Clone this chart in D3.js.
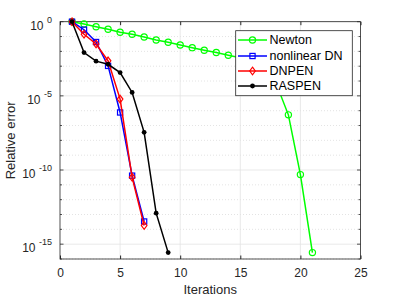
<!DOCTYPE html>
<html><head><meta charset="utf-8">
<script src="https://cdn.jsdelivr.net/npm/d3@7"></script>
<style>body{margin:0;background:#fff}svg{display:block;font-family:"Liberation Sans",Arial,sans-serif}</style>
</head><body><svg id="c" width="399" height="299"></svg>
<script>
const xTicks = [0, 5, 10, 15, 20, 25];
const yTickExps = [0, -5, -10, -15];
const seriesNames = ["Newton", "nonlinear DN", "DNPEN", "RASPEN"];
const seriesColors = ["#00ff00", "#0000ff", "#ff0000", "#000000"];
const newtonIt = [1,2,3,4,5,6,7,8,9,10,11,12,13,14,15,16,17,18,19,20,21];
const newtonLog = [0,-0.155,-0.336,-0.51,-0.71,-0.85,-1.03,-1.23,-1.39,-1.57,-1.75,-1.92,-2.08,-2.26,-2.43,-2.62,-3.0,-4.2,-6.28,-10.31,-15.57];
const dnIt = [1,2,3,4,5,6,7];
const dnLog = [0,-0.54,-1.37,-2.98,-6.12,-10.38,-13.47];
const dnpenIt = [1,2,3,4,5,6,7];
const dnpenLog = [0,-0.85,-1.5,-2.64,-5.22,-10.49,-13.74];
const raspenIt = [1,2,3,4,5,6,7,8,9];
const raspenLog = [0,-2.08,-2.66,-2.87,-3.43,-4.77,-7.46,-12.91,-15.57];

const svg = d3.select("#c");
const L = 60, R = 360.5, T = 21.7, B = 259;
const x = d3.scaleLinear().domain([0, 25]).range([L, R]);
const y = d3.scaleLog().domain([1e-16, 1]).range([B, T]);
const axisCol = "#262626";

// minor dotted grid (each decade)
const decades = d3.range(-16, 1);
svg.append("g").selectAll("line").data(decades.filter(d => d % 5 !== 0)).join("line")
  .attr("x1", L).attr("x2", R).attr("y1", d => y(Math.pow(10, d))).attr("y2", d => y(Math.pow(10, d)))
  .attr("stroke", "#d0d0d0").attr("stroke-width", 0.6).attr("stroke-dasharray", "1,2");
// major grid
svg.append("g").selectAll("line").data(yTickExps).join("line")
  .attr("x1", L).attr("x2", R).attr("y1", d => y(Math.pow(10, d))).attr("y2", d => y(Math.pow(10, d)))
  .attr("stroke", "#e3e3e3").attr("stroke-width", 0.8);
svg.append("g").selectAll("line").data(xTicks.slice(1, -1)).join("line")
  .attr("x1", d => x(d)).attr("x2", d => x(d)).attr("y1", T).attr("y2", B)
  .attr("stroke", "#e3e3e3").attr("stroke-width", 0.8);

// box
svg.append("rect").attr("x", L).attr("y", T).attr("width", R - L).attr("height", B - T)
  .attr("fill", "none").attr("stroke", axisCol).attr("stroke-width", 0.8);

// x axis ticks (inward) bottom and top
const xa = d3.axisBottom(x).tickValues(xTicks).tickSize(-3.5).tickPadding(9);
const gx = svg.append("g").attr("transform", `translate(0,${B})`).call(xa);
gx.select(".domain").remove();
gx.selectAll("line").attr("stroke", axisCol);
gx.selectAll("text").attr("fill", axisCol).style("font-size", "12px");
const gxt = svg.append("g").attr("transform", `translate(0,${T})`).call(d3.axisTop(x).tickValues(xTicks).tickSize(-3.5).tickFormat(""));
gxt.select(".domain").remove(); gxt.selectAll("line").attr("stroke", axisCol);

// y ticks inward left and right
[L, R].forEach((xx, i) => {
  const dir = i === 0 ? 1 : -1;
  svg.append("g").selectAll("line").data(decades).join("line")
    .attr("x1", xx).attr("x2", d => xx + dir * (d % 5 === 0 ? 3.5 : 2))
    .attr("y1", d => y(Math.pow(10, d))).attr("y2", d => y(Math.pow(10, d)))
    .attr("stroke", axisCol).attr("stroke-width", 0.8);
});
// y tick labels 10^e
const yl = svg.append("g").selectAll("text").data(yTickExps).join("text")
  .attr("x", L - 8).attr("y", d => y(Math.pow(10, d)) + 8)
  .attr("text-anchor", "end").attr("fill", axisCol).style("font-size", "12px");
yl.append("tspan").text("10");
yl.append("tspan").attr("dx", 3.5).attr("dy", -7).style("font-size", "9px").text(d => String(d));

// axis labels
svg.append("text").attr("x", (L + R) / 2).attr("y", 294).attr("text-anchor", "middle")
  .attr("fill", axisCol).style("font-size", "13px").text("Iterations");
svg.append("text").attr("transform", `translate(15,${(T + B) / 2}) rotate(-90)`).attr("text-anchor", "middle")
  .attr("fill", axisCol).style("font-size", "13px").text("Relative error");

// series
const series = [
  {its: newtonIt, logs: newtonLog, marker: "circle"},
  {its: dnIt, logs: dnLog, marker: "square"},
  {its: dnpenIt, logs: dnpenLog, marker: "diamond"},
  {its: raspenIt, logs: raspenLog, marker: "dot"}
];
const line = d3.line().x(d => x(d[0])).y(d => y(Math.pow(10, d[1])));
function drawMarker(g, type, col, cx, cy) {
  if (type === "circle") g.append("circle").attr("cx", cx).attr("cy", cy).attr("r", 3.1).attr("fill", "none").attr("stroke", col).attr("stroke-width", 1.2);
  else if (type === "square") g.append("rect").attr("x", cx - 2.6).attr("y", cy - 2.6).attr("width", 5.2).attr("height", 5.2).attr("fill", "none").attr("stroke", col).attr("stroke-width", 1.2);
  else if (type === "diamond") g.append("path").attr("d", `M${cx},${cy-3.8}L${cx+2.8},${cy}L${cx},${cy+3.8}L${cx-2.8},${cy}Z`).attr("fill", "none").attr("stroke", col).attr("stroke-width", 1.2);
  else g.append("circle").attr("cx", cx).attr("cy", cy).attr("r", 2.4).attr("fill", col);
}
series.forEach((s, i) => {
  const pts = s.its.map((it, k) => [it, s.logs[k]]);
  const g = svg.append("g");
  g.append("path").attr("d", line(pts)).attr("fill", "none").attr("stroke", seriesColors[i]).attr("stroke-width", 1.5);
  pts.forEach(p => drawMarker(g, s.marker, seriesColors[i], x(p[0]), y(Math.pow(10, p[1]))));
});

// legend
const lg = svg.append("g");
lg.append("rect").attr("x", 235.7).attr("y", 30.7).attr("width", 116.6).attr("height", 65)
  .attr("fill", "#fff").attr("stroke", axisCol).attr("stroke-width", 0.8);
const legY = [40, 56, 71, 86];
seriesNames.forEach((n, i) => {
  lg.append("line").attr("x1", 238).attr("x2", 267).attr("y1", legY[i]).attr("y2", legY[i])
    .attr("stroke", seriesColors[i]).attr("stroke-width", 1.5);
  drawMarker(lg, series[i].marker, seriesColors[i], 252.5, legY[i]);
  lg.append("text").attr("x", 269.5).attr("y", legY[i] + 4.3).attr("fill", "#000")
    .style("font-size", "12.5px").text(n);
});
</script></body></html>
